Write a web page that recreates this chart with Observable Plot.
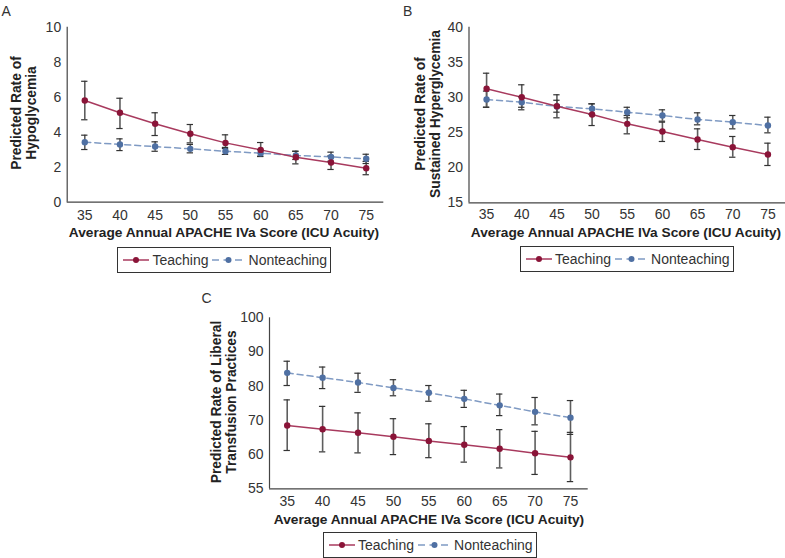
<!DOCTYPE html>
<html><head><meta charset="utf-8">
<script src="https://cdn.jsdelivr.net/npm/d3@7"></script>
<script src="https://cdn.jsdelivr.net/npm/@observablehq/plot@0.6"></script>
<style>
body{margin:0;background:#fff;}
#fig{position:relative;width:785px;height:558px;overflow:hidden;background:#fff;font-family:"Liberation Sans",Arial,Helvetica,sans-serif;color:#222;}
.panel{position:absolute;}
.tag{position:absolute;font-size:14px;line-height:1;color:#333;}
.xt{position:absolute;font-weight:bold;font-size:13.7px;line-height:1;white-space:nowrap;transform:translate(-50%,-50%);color:#222;}
.yt{position:absolute;font-weight:bold;font-size:13.8px;line-height:15px;white-space:nowrap;text-align:center;transform:translate(-50%,-50%) rotate(-90deg);color:#222;}
.legend{position:absolute;border:1px solid #333;box-sizing:border-box;display:flex;align-items:center;font-size:14px;height:26px;color:#333;background:#fff;}
.legend svg{display:block;}
</style></head><body><div id="fig"></div>
<script>
// ---- data ----
const xVals = [35, 40, 45, 50, 55, 60, 65, 70, 75];
const seriesNames = ["Teaching", "Nonteaching"];

// Panel A: Predicted Rate of Hypoglycemia
const hypoTeach   = [5.81, 5.11, 4.48, 3.91, 3.39, 2.99, 2.57, 2.27, 1.94];
const hypoTeachLo = [4.71, 4.21, 3.81, 3.39, 3.07, 2.63, 2.19, 1.87, 1.57];
const hypoTeachHi = [6.91, 5.94, 5.11, 4.44, 3.85, 3.41, 2.91, 2.65, 2.33];
const hypoNon     = [3.43, 3.30, 3.18, 3.05, 2.91, 2.80, 2.67, 2.59, 2.48];
const hypoNonLo   = [3.01, 2.95, 2.91, 2.82, 2.73, 2.61, 2.44, 2.34, 2.21];
const hypoNonHi   = [3.83, 3.62, 3.45, 3.30, 3.13, 3.00, 2.91, 2.86, 2.74];
const hypoYTicks  = [0, 2, 4, 6, 8, 10];
const hypoYLabels = ["0", "2", "4", "6", "8", "10"];

// Panel B: Predicted Rate of Sustained Hyperglycemia
const hyperTeach   = [31.23, 30.03, 28.75, 27.57, 26.24, 25.15, 24.01, 22.92, 21.88];
const hyperTeachLo = [28.61, 28.24, 27.10, 26.00, 24.82, 23.73, 22.59, 21.49, 20.31];
const hyperTeachHi = [33.45, 31.80, 30.38, 29.09, 27.43, 26.48, 25.53, 24.44, 23.49];
const hyperNon     = [29.71, 29.32, 28.72, 28.38, 27.90, 27.43, 26.86, 26.48, 26.00];
const hyperNonLo   = [28.60, 28.60, 27.90, 27.57, 27.10, 26.62, 26.10, 25.53, 24.96];
const hyperNonHi   = [30.90, 30.10, 29.60, 29.09, 28.60, 28.24, 27.81, 27.43, 27.19];
const hyperYTicks  = [15, 20, 25, 30, 35, 40];
const hyperYLabels = ["15", "20", "25", "30", "35", "40"];

// Panel C: Predicted Rate of Liberal Transfusion Practices
const transTeach   = [68.5, 67.4, 66.4, 65.2, 64.0, 62.9, 61.7, 60.4, 59.2];
const transTeachLo = [61.2, 60.8, 60.5, 60.0, 59.1, 57.8, 56.1, 54.2, 52.1];
const transTeachHi = [76.0, 74.1, 72.2, 70.5, 69.0, 68.2, 67.3, 66.8, 66.5];
const transNon     = [83.9, 82.5, 81.1, 79.5, 78.1, 76.3, 74.4, 72.5, 70.8];
const transNonLo   = [80.2, 79.3, 78.2, 77.2, 75.6, 73.8, 71.4, 68.7, 65.9];
const transNonHi   = [87.3, 85.6, 83.8, 81.9, 80.2, 78.8, 77.7, 76.7, 75.8];
const transYTicks  = [50, 60, 70, 80, 90, 100];
const transYLabels = ["55", "60", "70", "80", "90", "100"];

const xTitle = "Average Annual APACHE IVa Score (ICU Acuity)";

// ---- styles ----
const teachLine = "#a83a5e", teachDot = "#8a1438";
const nonLine = "#7f9ac3", nonDot = "#4f70a3";
const barColor = "#5e5e5e", capColor = "#333";

const panels = [
  {tag: "A", left: 0, top: 0, width: 390, height: 240, mL: 66.7, mR: 6.7, mT: 26.7, mB: 38.3, xPad: 8.3,
   yDomain: [0, 10], yTicks: hypoYTicks, yLabels: hypoYLabels,
   teach: [hypoTeach, hypoTeachLo, hypoTeachHi], non: [hypoNon, hypoNonLo, hypoNonHi],
   yTitle: ["Predicted Rate of", "Hypoglycemia"], yTitleX: 24, yTitleY: 113,
   tagX: 1.5, tagY: 4, xTitleX: 224, xTitleY: 233, legX: 117, legY: 246.5},
  {tag: "B", left: 390, top: 0, width: 395, height: 240, mL: 78.5, mR: 0, mT: 26.7, mB: 37.7, xPad: 6.3,
   yDomain: [15, 40], yTicks: hyperYTicks, yLabels: hyperYLabels,
   teach: [hyperTeach, hyperTeachLo, hyperTeachHi], non: [hyperNon, hyperNonLo, hyperNonHi],
   yTitle: ["Predicted Rate of", "Sustained Hyperglycemia"], yTitleX: 428, yTitleY: 114,
   tagX: 403, tagY: 4, xTitleX: 626, xTitleY: 233, legX: 519.5, legY: 245.5},
  {tag: "C", left: 190, top: 280, width: 400, height: 250, mL: 79, mR: 2.3, mT: 37.3, mB: 41.7, xPad: 6.8,
   yDomain: [50, 100], yTicks: transYTicks, yLabels: transYLabels,
   teach: [transTeach, transTeachLo, transTeachHi], non: [transNon, transNonLo, transNonHi],
   yTitle: ["Predicted Rate of Liberal", "Transfusion Practices"], yTitleX: 223.5, yTitleY: 402,
   tagX: 201.5, tagY: 291, xTitleX: 429, xTitleY: 520, legX: 322.5, legY: 531.5}
];

const fig = document.getElementById("fig");
const xDomain = [xVals[0] - 2.5, xVals[xVals.length - 1] + 2.5];
const cap = 0.45;

function rows(arrs, group) {
  const [v, lo, hi] = arrs;
  return xVals.map((x, i) => ({x, v: v[i], lo: lo[i], hi: hi[i], group}));
}

for (const p of panels) {
  const t = rows(p.teach, seriesNames[0]);
  const n = rows(p.non, seriesNames[1]);
  const all = n.concat(t);
  const labelMap = new Map(p.yTicks.map((d, i) => [d, p.yLabels[i]]));
  const chart = Plot.plot({
    width: p.width, height: p.height,
    marginLeft: p.mL, marginRight: p.mR, marginTop: p.mT, marginBottom: p.mB,
    style: {fontFamily: '"Liberation Sans", Arial, Helvetica, sans-serif', fontSize: "14px", color: "#333", background: "transparent", overflow: "visible"},
    x: {domain: xDomain, ticks: xVals, tickSize: 0, tickPadding: p.xPad, label: null, tickFormat: d => String(d)},
    y: {domain: p.yDomain, ticks: p.yTicks, tickSize: 0, tickPadding: 6, label: null, tickFormat: d => labelMap.get(d)},
    marks: [
      Plot.ruleY([p.yDomain[0]], {stroke: "#444", strokeWidth: 1.2}),
      Plot.ruleX([xDomain[0]], {stroke: "#444", strokeWidth: 1.2}),
      Plot.line(n, {x: "x", y: "v", stroke: nonLine, strokeWidth: 1.5, strokeDasharray: "6,4"}),
      Plot.line(t, {x: "x", y: "v", stroke: teachLine, strokeWidth: 1.5}),
      Plot.ruleX(all, {x: "x", y1: "lo", y2: "hi", stroke: barColor, strokeWidth: 1.6}),
      Plot.ruleY(all, {y: "lo", x1: d => d.x - cap, x2: d => d.x + cap, stroke: capColor, strokeWidth: 1.2}),
      Plot.ruleY(all, {y: "hi", x1: d => d.x - cap, x2: d => d.x + cap, stroke: capColor, strokeWidth: 1.2}),
      Plot.dot(n, {x: "x", y: "v", r: 3.2, fill: nonDot, stroke: "none"}),
      Plot.dot(t, {x: "x", y: "v", r: 3.2, fill: teachDot, stroke: "none"})
    ]
  });
  chart.classList.add("panel");
  chart.style.left = p.left + "px";
  chart.style.top = p.top + "px";
  chart.style.position = "absolute";
  fig.appendChild(chart);

  const tag = document.createElement("div");
  tag.className = "tag"; tag.textContent = p.tag;
  tag.style.left = p.tagX + "px"; tag.style.top = p.tagY + "px";
  fig.appendChild(tag);

  const xt = document.createElement("div");
  xt.className = "xt"; xt.textContent = xTitle;
  xt.style.left = p.xTitleX + "px"; xt.style.top = p.xTitleY + "px";
  fig.appendChild(xt);

  const yt = document.createElement("div");
  yt.className = "yt"; yt.innerHTML = p.yTitle.join("<br>");
  yt.style.left = p.yTitleX + "px"; yt.style.top = p.yTitleY + "px";
  fig.appendChild(yt);

  const leg = document.createElement("div");
  leg.className = "legend";
  leg.style.left = p.legX + "px"; leg.style.top = p.legY + "px"; leg.style.width = "214px";
  leg.innerHTML =
    `<svg width="26" height="10" style="margin-left:5px"><line x1="0" x2="26" y1="5" y2="5" stroke="${teachLine}" stroke-width="1.5"/><circle cx="13" cy="5" r="3" fill="${teachDot}"/></svg>` +
    `<span style="margin-left:3.5px">${seriesNames[0]}</span>` +
    `<svg width="33" height="10" style="margin-left:3.5px"><line x1="0" x2="33" y1="5" y2="5" stroke="${nonLine}" stroke-width="1.5" stroke-dasharray="7,4.5"/><circle cx="16.5" cy="5" r="3" fill="${nonDot}"/></svg>` +
    `<span style="margin-left:3.5px">${seriesNames[1]}</span>`;
  fig.appendChild(leg);
}
</script></body></html>
